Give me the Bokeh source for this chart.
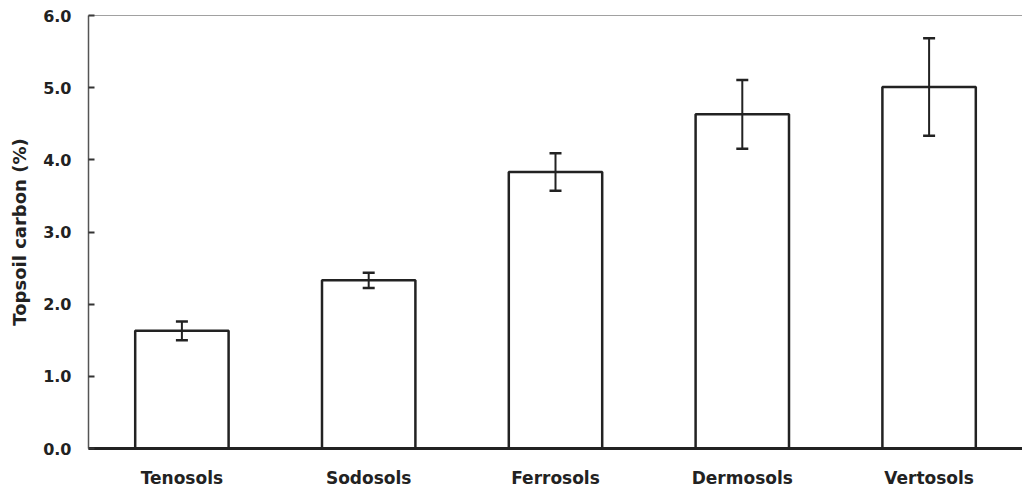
from bokeh.plotting import figure
from bokeh.models import ColumnDataSource, Whisker, Span, FixedTicker, Range1d, CustomJSTickFormatter
from bokeh.embed import file_html
from bokeh.resources import INLINE

categories = ["Tenosols", "Sodosols", "Ferrosols", "Dermosols", "Vertosols"]
carbon = [1.63, 2.33, 3.83, 4.63, 5.01]
errors = [0.13, 0.105, 0.26, 0.475, 0.675]
y_ticks = [0.0, 1.0, 2.0, 3.0, 4.0, 5.0, 6.0]

src = ColumnDataSource(dict(
    cat=categories,
    val=carbon,
    upper=[v + e for v, e in zip(carbon, errors)],
    lower=[v - e for v, e in zip(carbon, errors)],
))

FONT = "DejaVu Sans"

p = figure(width=1022, height=490, x_range=categories, y_range=Range1d(0, 6),
           output_backend="svg", toolbar_location=None,
           min_border_left=88, min_border_right=0, min_border_top=15, min_border_bottom=42)
p.x_range.range_padding = 0
p.outline_line_color = None
p.grid.grid_line_color = None
p.background_fill_color = "white"

p.vbar(x="cat", top="val", width=0.5, source=src, fill_color="white",
       line_color="#222222", line_width=2.5)

w = Whisker(source=src, base="cat", upper="upper", lower="lower",
            line_color="#222222", line_width=2, level="overlay")
for h in (w.upper_head, w.lower_head):
    h.size = 12
    h.line_width = 2.5
    h.line_color = "#222222"
p.add_layout(w)

p.add_layout(Span(location=6, dimension="width", line_color="#444444", line_width=1.2))

# y axis
p.yaxis.ticker = FixedTicker(ticks=y_ticks)
p.yaxis.formatter = CustomJSTickFormatter(code="return tick.toFixed(1);")
p.yaxis.major_tick_in = 6
p.yaxis.major_tick_out = 0
p.yaxis.minor_tick_line_color = None
p.yaxis.axis_line_color = "#555555"
p.yaxis.axis_line_width = 1.5
p.yaxis.major_tick_line_color = "#333333"
p.yaxis.major_tick_line_width = 2
p.yaxis.major_label_text_font = FONT
p.yaxis.major_label_text_font_style = "bold"
p.yaxis.major_label_text_font_size = "16px"
p.yaxis.major_label_text_color = "#222222"
p.yaxis.major_label_standoff = 17
p.yaxis.axis_label = "Topsoil carbon (%)"
p.yaxis.axis_label_text_font = FONT
p.yaxis.axis_label_text_font_style = "bold"
p.yaxis.axis_label_text_font_size = "18px"
p.yaxis.axis_label_text_color = "#222222"
p.yaxis.axis_label_standoff = 10

# x axis
p.xaxis.major_tick_line_color = None
p.xaxis.minor_tick_line_color = None
p.xaxis.axis_line_color = "#222222"
p.xaxis.axis_line_width = 3
p.xaxis.major_label_text_font = FONT
p.xaxis.major_label_text_font_style = "bold"
p.xaxis.major_label_text_font_size = "17px"
p.xaxis.major_label_text_color = "#222222"
p.xaxis.major_label_standoff = 13

open("out.html", "w").write(file_html(p, INLINE))
